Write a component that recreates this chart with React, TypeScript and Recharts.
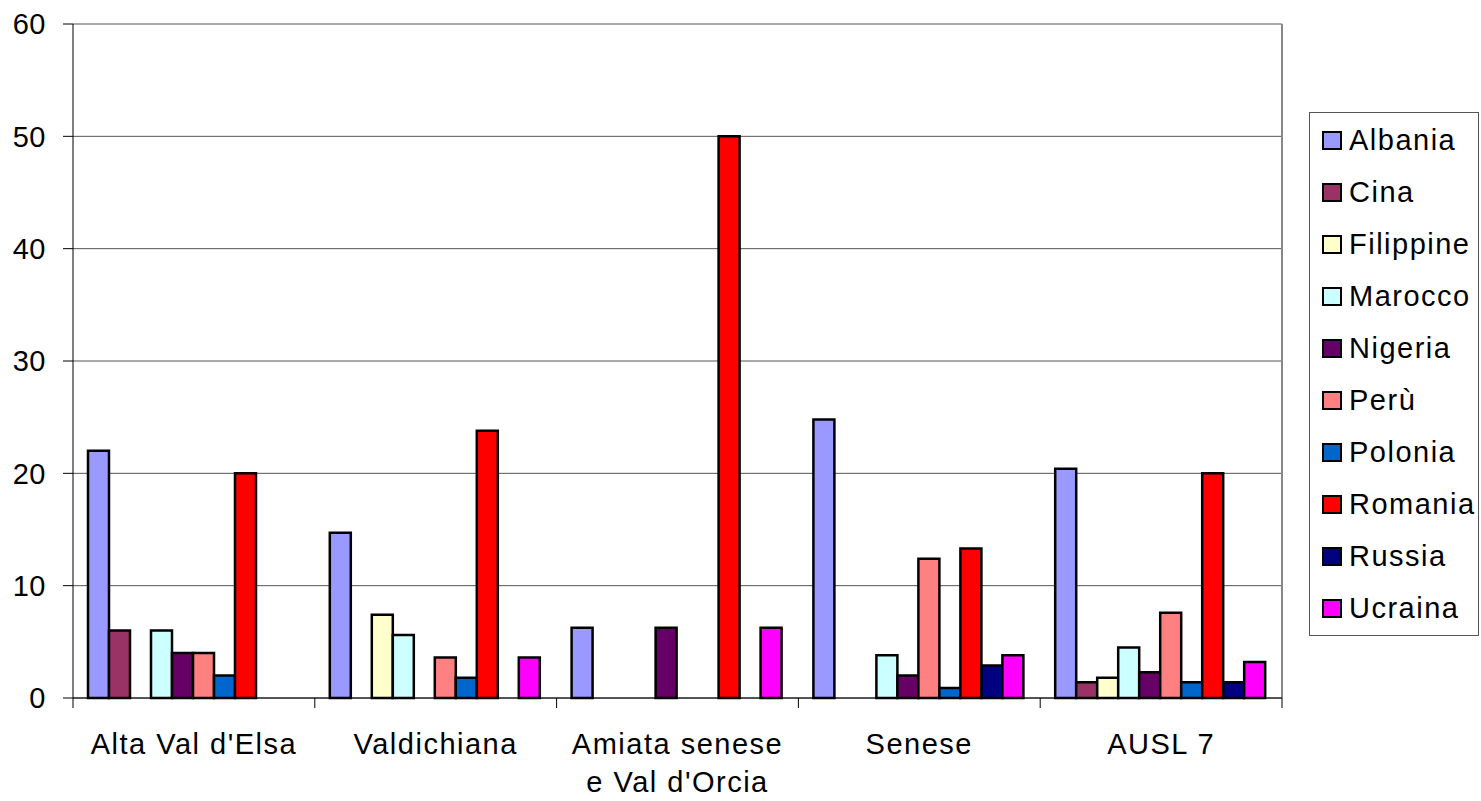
import { BarChart, Bar, XAxis, YAxis, CartesianGrid, Legend } from 'recharts';

const categories = ["Alta Val d'Elsa", "Valdichiana", "Amiata senese e Val d'Orcia", "Senese", "AUSL 7"];

const albania = [22, 14.7, 6.25, 24.8, 20.4];
const cina = [6, 0, 0, 0, 1.4];
const filippine = [0, 7.4, 0, 0, 1.8];
const marocco = [6, 5.6, 0, 3.8, 4.5];
const nigeria = [4, 0, 6.25, 2, 2.3];
const peru = [4, 3.6, 0, 12.4, 7.6];
const polonia = [2, 1.8, 0, 0.9, 1.4];
const romania = [20, 23.8, 50, 13.3, 20];
const russia = [0, 0, 0, 2.9, 1.4];
const ucraina = [0, 3.6, 6.25, 3.8, 3.2];

const seriesNames = ['Albania', 'Cina', 'Filippine', 'Marocco', 'Nigeria', 'Perù', 'Polonia', 'Romania', 'Russia', 'Ucraina'];
const seriesValues = [albania, cina, filippine, marocco, nigeria, peru, polonia, romania, russia, ucraina];
const seriesColors = ['#9999FF', '#993366', '#FFFFCC', '#CCFFFF', '#660066', '#FF8080', '#0066CC', '#FF0000', '#000080', '#FF00FF'];

const yTicks = [0, 10, 20, 30, 40, 50, 60];

const chartData = categories.map((name, i) => {
  const row: any = { name };
  seriesNames.forEach((s, j) => {
    row[s] = seriesValues[j][i];
  });
  return row;
});

const FONT = '"Liberation Sans", Arial, sans-serif';
const WIDTH = 1481;
const HEIGHT = 801;
const MARGIN = { top: 24, right: 29, left: 0, bottom: 0 };
const LEGEND_W = 170;
const Y_AXIS_W = 73;
const X_AXIS_H = 103;
const PLOT_W = WIDTH - Y_AXIS_W - MARGIN.right - LEGEND_W;

// greedy word wrap, measured on a canvas
function wrapLabel(text: string, maxW: number): string[] {
  const ctx = document.createElement('canvas').getContext('2d');
  const measure = (s: string) => {
    if (!ctx) return s.length * 14;
    ctx.font = `29px ${FONT}`;
    return ctx.measureText(s).width + s.length * 1.5;
  };
  const words = text.split(' ');
  const lines: string[] = [];
  let cur = '';
  words.forEach((w) => {
    const next = cur ? cur + ' ' + w : w;
    if (cur && measure(next) > maxW) {
      lines.push(cur);
      cur = w;
    } else {
      cur = next;
    }
  });
  if (cur) lines.push(cur);
  return lines;
}

const XTick = (props: any) => {
  const { x, y, payload, index } = props;
  const band = PLOT_W / categories.length;
  const lines = wrapLabel(String(payload.value), 225);
  return (
    <g>
      <line x1={x - band / 2} y1={y} x2={x - band / 2} y2={y + 10} stroke="#000" />
      {index === categories.length - 1 && (
        <line x1={x + band / 2} y1={y} x2={x + band / 2} y2={y + 10} stroke="#000" />
      )}
      <text
        x={x}
        y={y + 56}
        textAnchor="middle"
        fontSize={29}
        fontFamily={FONT}
        letterSpacing={1.5}
        fill="#000"
      >
        {lines.map((l, i) => (
          <tspan key={i} x={x} dy={i === 0 ? 0 : 38}>
            {l}
          </tspan>
        ))}
      </text>
    </g>
  );
};

const LegendBox = () => (
  <div
    style={{
      boxSizing: 'border-box',
      width: LEGEND_W,
      border: '1px solid #555',
      background: '#fff',
      padding: '1px 0',
      fontFamily: FONT,
      fontSize: 29,
      letterSpacing: 1.5,
      color: '#000',
    }}
  >
    {seriesNames.map((s, i) => (
      <div key={s} style={{ height: 52, display: 'flex', alignItems: 'center', paddingLeft: 12 }}>
        <span
          style={{
            boxSizing: 'border-box',
            display: 'inline-block',
            width: 20,
            height: 19,
            background: seriesColors[i],
            border: '2px solid #000',
            marginRight: 7,
          }}
        />
        <span style={{ lineHeight: '52px' }}>{s}</span>
      </div>
    ))}
  </div>
);

export default function App() {
  return (
    <div style={{ position: 'absolute', left: 0, top: 0, background: '#fff' }}>
      <BarChart
        width={WIDTH}
        height={HEIGHT}
        data={chartData}
        margin={MARGIN}
        barCategoryGap={15}
        barGap={0}
      >
        <CartesianGrid horizontal={true} vertical={false} stroke="#555" />
        <CartesianGrid
          horizontal={false}
          vertical={true}
          stroke="#888"
          strokeWidth={2}
          verticalCoordinatesGenerator={({ offset }: any) => [offset.left + offset.width]}
        />
        <XAxis
          dataKey="name"
          interval={0}
          height={X_AXIS_H}
          tickSize={0}
          tickMargin={0}
          axisLine={{ stroke: '#000' }}
          tick={<XTick />}
        />
        <YAxis
          width={Y_AXIS_W}
          domain={[0, 60]}
          ticks={yTicks}
          interval={0}
          tickSize={10}
          tickMargin={17}
          axisLine={{ stroke: '#000' }}
          tickLine={{ stroke: '#000' }}
          tick={{ fill: '#000', fontSize: 29, fontFamily: FONT, letterSpacing: 0.5 }}
        />
        <Legend
          layout="vertical"
          align="right"
          verticalAlign="top"
          width={LEGEND_W}
          wrapperStyle={{ top: 112, right: 2 }}
          content={<LegendBox />}
        />
        {seriesNames.map((s, i) => (
          <Bar
            key={s}
            dataKey={s}
            fill={seriesColors[i]}
            stroke="#000"
            strokeWidth={2.5}
            isAnimationActive={false}
          />
        ))}
      </BarChart>
    </div>
  );
}
